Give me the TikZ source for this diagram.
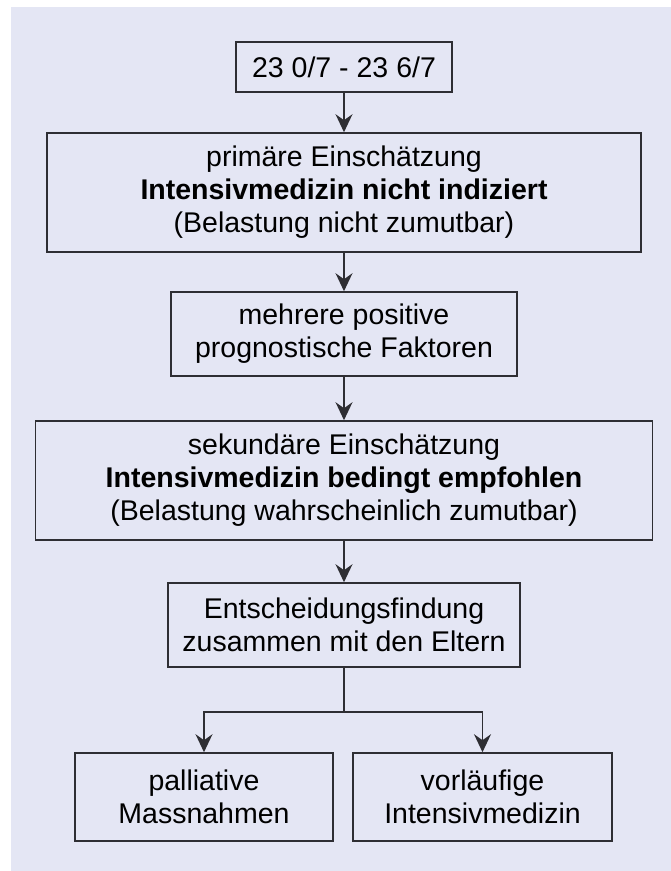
\documentclass[tikz,border=0pt]{standalone}
\usepackage{fontspec}
\setmainfont{Liberation Sans}
\usetikzlibrary{arrows.meta}
\definecolor{bgc}{HTML}{E4E6F4}
\definecolor{linec}{HTML}{2E2E33}
\begin{document}
\begin{tikzpicture}[x=1pt,y=-1pt,
  box/.style={draw=linec, line width=1.6pt, inner sep=0pt, align=center,
    font=\fontsize{28.5}{33}\selectfont, text=black},
  arr/.style={draw=linec, line width=1.6pt,
    -{Stealth[length=18pt,width=17pt,inset=6pt]}},
  con/.style={draw=linec, line width=1.6pt}]
\useasboundingbox (0,0) rectangle (671,871);
\fill[bgc] (11,7) rectangle (671,871);
\node[box, minimum width=216pt, minimum height=50pt] (b1) at (344,67) {23 0/7 - 23 6/7};
\node[box, minimum width=594pt, minimum height=119pt] (b2) at (344,192.5)
  {primäre Einschätzung\\\textbf{Intensivmedizin nicht indiziert}\\(Belastung nicht zumutbar)};
\node[box, minimum width=346pt, minimum height=84pt] (b3) at (344,334)
  {mehrere positive\\prognostische Faktoren};
\node[box, minimum width=617pt, minimum height=119pt] (b4) at (344,480.5)
  {sekundäre Einschätzung\\\textbf{Intensivmedizin bedingt empfohlen}\\(Belastung wahrscheinlich zumutbar)};
\node[box, minimum width=352pt, minimum height=84pt] (b5) at (344,625)
  {Entscheidungsfindung\\zusammen mit den Eltern};
\node[box, minimum width=258pt, minimum height=88pt] (b6) at (204,797)
  {palliative\\Massnahmen};
\node[box, minimum width=259pt, minimum height=88pt] (b7) at (482.5,797)
  {vorläufige\\Intensivmedizin};
\draw[arr] (b1) -- (b2);
\draw[arr] (b2) -- (b3);
\draw[arr] (b3) -- (b4);
\draw[arr] (b4) -- (b5);
\draw[con] (b5.south) -- ++(0,44) coordinate (br);
\draw[arr] (br) -| (b6.north);
\draw[arr] (br) -| (b7.north);
\end{tikzpicture}
\end{document}
